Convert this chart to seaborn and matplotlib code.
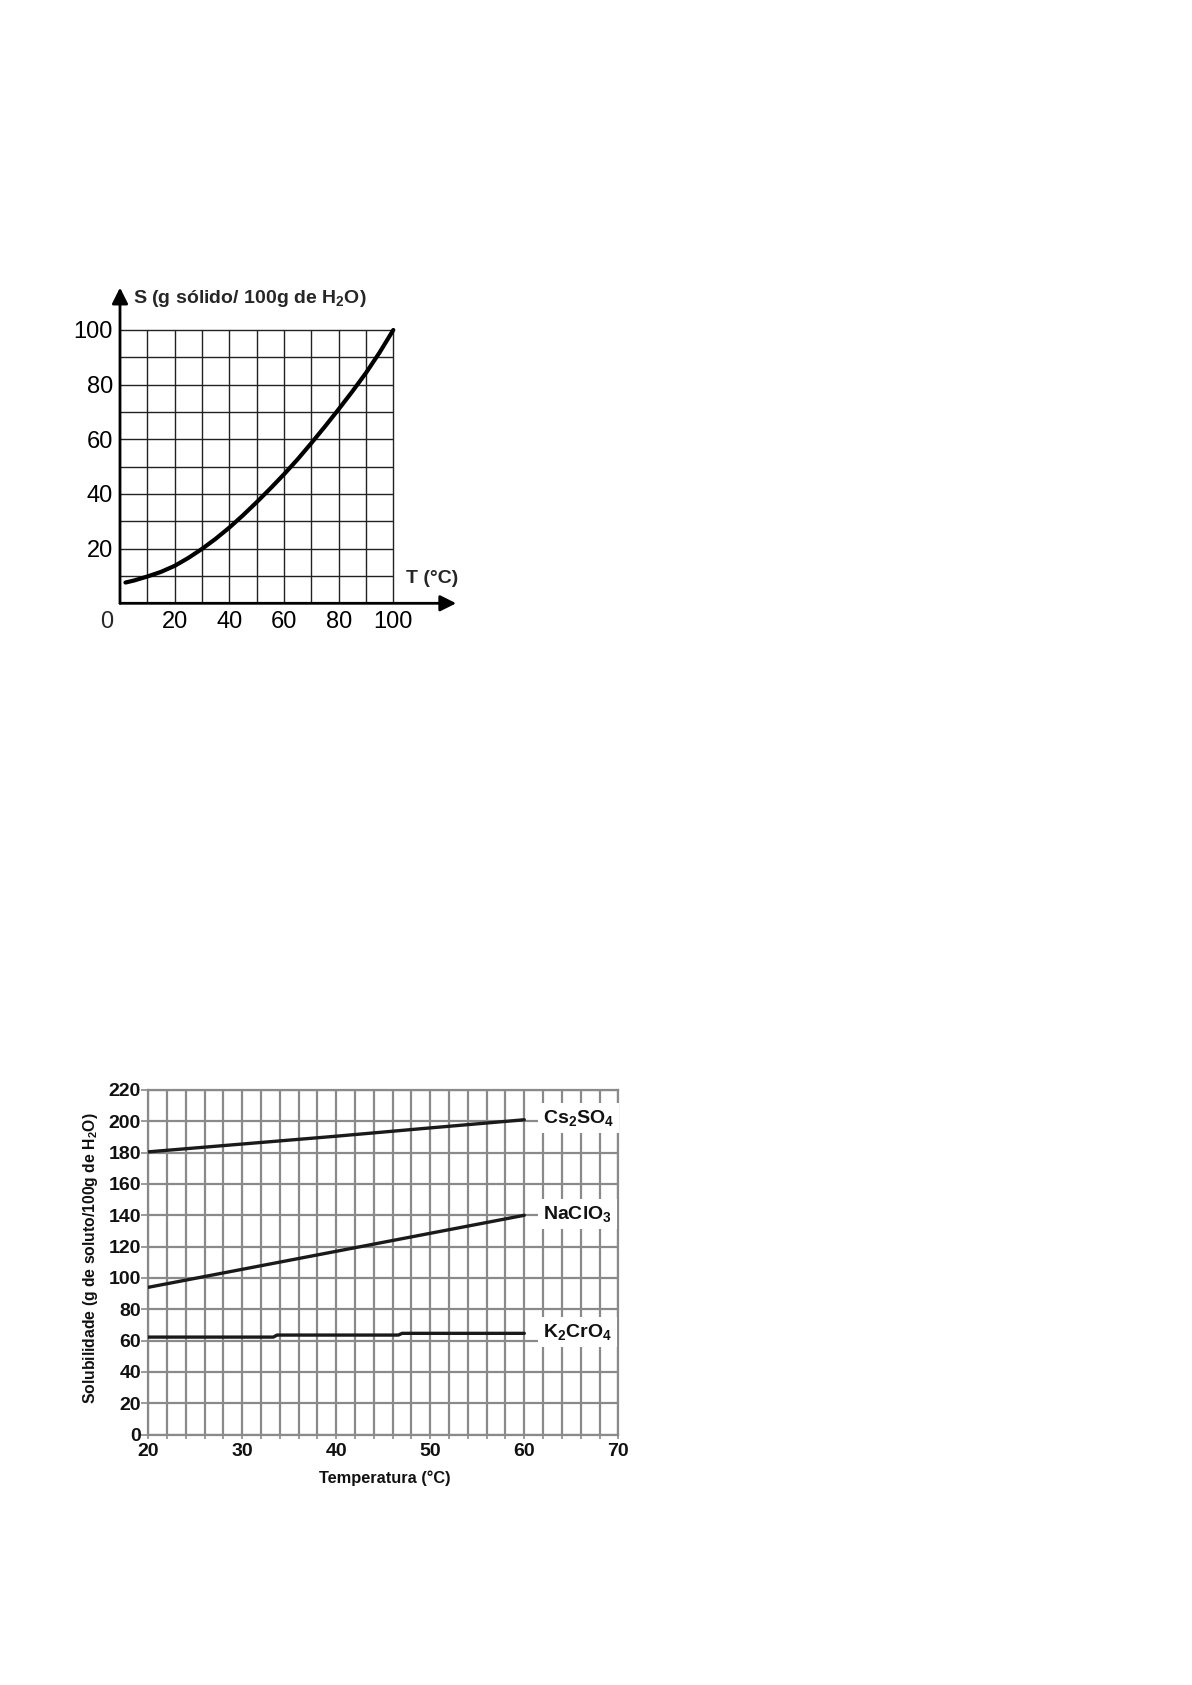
import numpy as np
import pandas as pd
import matplotlib
matplotlib.use('Agg')
import matplotlib.pyplot as plt
import seaborn as sns

# top chart: solubility curve
temp_top = [2, 5, 10, 15, 20, 25, 30, 35, 40, 45, 50, 55, 60, 65, 70, 75, 80, 85, 90, 95, 100]
sol_top = [7.6, 8.3, 9.8, 11.5, 13.7, 16.6, 19.9, 23.6, 27.7, 32.2, 37.0, 42.0, 47.2,
           52.7, 58.6, 64.7, 71.0, 77.5, 84.3, 91.8, 100]
top_ticks = [20, 40, 60, 80, 100]

# bottom chart: three salts
temp_bot = [20, 30, 40, 50, 60]
cs2so4 = [180.5, 185.5, 190.5, 195.8, 201]
naclo3 = [94, 105.5, 117, 128.5, 140]
k2cro4_temp = [20, 33.3, 33.7, 46.6, 47.0, 60]
k2cro4 = [62.2, 62.2, 63.5, 63.5, 64.6, 64.6]
salt_names = ['Cs$_\\mathbf{2}$SO$_\\mathbf{4}$', 'NaClO$_\\mathbf{3}$', 'K$_\\mathbf{2}$CrO$_\\mathbf{4}$']
bot_xticks = [20, 30, 40, 50, 60, 70]
bot_yticks = list(range(0, 221, 20))

sns.set_theme(style='white')
plt.rcParams['font.family'] = ['Liberation Sans', 'DejaVu Sans']
plt.rcParams['mathtext.fontset'] = 'custom'
plt.rcParams['mathtext.rm'] = 'Liberation Sans'
plt.rcParams['mathtext.bf'] = 'Liberation Sans:bold'
plt.rcParams['mathtext.it'] = 'Liberation Sans:italic'

narrow = ['Liberation Sans Narrow', 'DejaVu Sans Condensed', 'Liberation Sans']

W, H = 1192, 1685
fig = plt.figure(figsize=(W / 100, H / 100), dpi=100)
fig.patch.set_facecolor('white')

# ---------- top chart ----------
px = 2.733  # pixels per unit
ax1 = fig.add_axes([120 / W, 1 - 603.3 / H, 125 * px / W, 118 * px / H])
ax1.set_xlim(0, 125)
ax1.set_ylim(0, 118)
for s in ax1.spines.values():
    s.set_visible(False)
ax1.set_facecolor('none')

grid_vals = np.arange(10, 101, 10)
ax1.hlines(grid_vals, 0, 100, color='#222222', lw=1.0, zorder=1)
ax1.vlines(grid_vals, 0, 100, color='#222222', lw=1.0, zorder=1)

sns.lineplot(x=temp_top, y=sol_top, ax=ax1, color='black', lw=3.0, zorder=3)

arrow = dict(arrowstyle='-|>', lw=2.0, color='black', mutation_scale=24,
             shrinkA=0, shrinkB=0)
ax1.annotate('', xy=(123, 0), xytext=(0, 0), arrowprops=arrow, annotation_clip=False)
ax1.annotate('', xy=(0, 115.5), xytext=(0, 0), arrowprops=arrow, annotation_clip=False)

ax1.set_xticks(top_ticks)
ax1.set_yticks(top_ticks)
ax1.set_xticklabels([str(t) for t in top_ticks])
ax1.set_yticklabels([str(t) for t in top_ticks])
ax1.tick_params(axis='both', length=0, labelsize=17, colors='black')
ax1.tick_params(axis='x', pad=5.2)
ax1.tick_params(axis='y', pad=5.0)
for lbl in ax1.get_xticklabels() + ax1.get_yticklabels():
    lbl.set_fontfamily(narrow)
ax1.text(-4.9, -7.0, '0', fontsize=17, ha='center', va='center',
         family=narrow, clip_on=False)
ax1.text(4.6, 111.6, 'S (g sólido/ 100g de H$_\\mathbf{2}$O)', fontsize=14,
         fontweight='bold', ha='left', va='center', clip_on=False)
ax1.text(104.6, 8.9, 'T (°C)', fontsize=14, fontweight='bold',
         ha='left', va='center', clip_on=False)
ax1.set_xlabel('')
ax1.set_ylabel('')

# ---------- bottom chart ----------
ax2 = fig.add_axes([148.3 / W, 1 - 1434.5 / H, 470 / W, 344.5 / H])
df = pd.concat([
    pd.DataFrame({'T': temp_bot, 'S': cs2so4, 'sal': 'Cs2SO4'}),
    pd.DataFrame({'T': temp_bot, 'S': naclo3, 'sal': 'NaClO3'}),
    pd.DataFrame({'T': k2cro4_temp, 'S': k2cro4, 'sal': 'K2CrO4'}),
])
sns.lineplot(data=df, x='T', y='S', hue='sal', estimator=None,
             palette=['#1a1a1a'] * 3, lw=2.4, legend=False, ax=ax2, zorder=3)
ax2.set_xlim(20, 70)
ax2.set_ylim(0, 220)
ax2.set_xticks(bot_xticks)
ax2.set_xticks(np.arange(20, 71, 2), minor=True)
ax2.set_yticks(bot_yticks)
grid_col = '#8a8a8a'
ax2.grid(which='both', axis='x', color=grid_col, lw=1.6)
ax2.grid(which='major', axis='y', color=grid_col, lw=1.6)
ax2.set_axisbelow(True)
for s in ax2.spines.values():
    s.set_color(grid_col)
    s.set_linewidth(1.6)
ax2.tick_params(axis='y', which='major', length=4.7, width=1.2, color=grid_col,
                pad=0.5, labelsize=14, left=True)
ax2.tick_params(axis='x', which='both', length=3, width=1.2, color=grid_col,
                pad=3.0, labelsize=14, bottom=True)
for lbl in ax2.get_xticklabels() + ax2.get_yticklabels():
    lbl.set_fontweight('bold')
    lbl.set_color('#111111')

last_vals = [cs2so4[-1], naclo3[-1], k2cro4[-1]]
for name, val in zip(salt_names, last_vals):
    ax2.text(62.0, val + 1, name, fontsize=14, fontweight='bold', ha='left',
             va='center', color='#111111', zorder=4,
             bbox=dict(boxstyle='square,pad=0.25', fc='white', ec='none'))

ax2.set_xlabel('Temperatura (°C)', fontsize=11.8, fontweight='bold', va='center',
               color='#111111')
ax2.xaxis.set_label_coords(0.5036, -0.127)
ax2.set_ylabel('Solubilidade (g de soluto/100g de H$_\\mathbf{2}$O)', fontsize=11.3,
               fontweight='bold', va='center', color='#111111')
ax2.yaxis.set_label_coords(-0.122, 0.512)

fig.savefig('out.png', dpi=100, facecolor='white')
